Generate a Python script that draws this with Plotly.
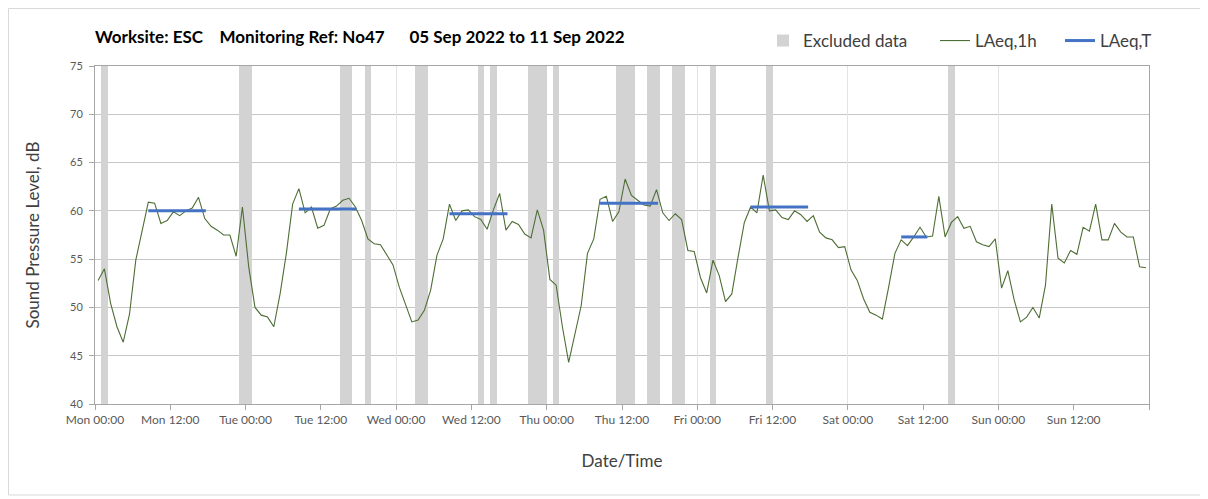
import pandas as pd
import plotly.graph_objects as go

# ---------------- data ----------------
start = pd.Timestamp("2022-09-05 00:00")

# hourly LAeq,1h values (Mon 00:00 .. Sun 23:00), plotted at mid-hour
laeq_1h = [
    52.8, 54.0, 50.4, 48.0, 46.4, 49.3, 54.9, 57.8, 60.9, 60.8, 58.7, 59.0,
    59.9, 59.5, 60.0, 60.3, 61.4, 59.2, 58.4, 58.0, 57.5, 57.5, 55.3, 60.4,
    54.2, 50.0, 49.2, 49.0, 48.0, 51.4, 55.6, 60.7, 62.3, 59.8, 60.4, 58.2,
    58.5, 60.2, 60.5, 61.1, 61.3, 60.4, 59.0, 57.1, 56.6, 56.5, 55.4, 54.4,
    52.1, 50.2, 48.5, 48.7, 49.7, 51.8, 55.4, 57.1, 60.7, 59.0, 60.0, 60.1,
    59.4, 59.1, 58.1, 60.1, 61.8, 58.0, 58.9, 58.6, 57.6, 57.2, 60.1, 58.0,
    52.9, 52.3, 48.0, 44.3, 47.3, 50.2, 55.6, 57.1, 61.2, 61.5, 58.9, 59.9,
    63.3, 61.6, 61.1, 60.6, 60.5, 62.2, 59.8, 59.0, 59.7, 59.1, 55.9, 55.8,
    53.1, 51.5, 54.9, 53.3, 50.6, 51.4, 55.2, 58.8, 60.4, 59.8, 63.7, 60.0,
    60.1, 59.3, 59.1, 60.0, 59.6, 58.9, 59.5, 57.8, 57.2, 57.0, 56.2, 56.3,
    53.9, 52.8, 50.9, 49.5, 49.2, 48.8, 52.1, 55.6, 57.0, 56.4, 57.3, 58.3,
    57.3, 57.4, 61.5, 57.3, 58.8, 59.4, 58.2, 58.4, 56.8, 56.5, 56.3, 57.1,
    52.0, 53.8, 50.8, 48.5, 49.0, 50.0, 48.9, 52.3, 60.7, 55.1, 54.6, 55.9,
    55.5, 58.3, 57.9, 60.7, 57.0, 57.0, 58.7, 57.8, 57.3, 57.3, 54.2, 54.1,
]

# LAeq,T period values
laeq_t_start = ["2022-09-05 08:30", "2022-09-06 08:30", "2022-09-07 08:30",
                "2022-09-08 08:30", "2022-09-09 08:30", "2022-09-10 08:30"]
laeq_t_end = ["2022-09-05 17:40", "2022-09-06 17:40", "2022-09-07 17:45",
              "2022-09-08 17:45", "2022-09-09 17:40", "2022-09-10 12:40"]
laeq_t_value = [60.0, 60.2, 59.7, 60.8, 60.4, 57.3]

# excluded data periods (hours from Mon 00:00)
excl_start_h = [1, 23, 39, 43, 51, 61, 63, 69, 73, 83, 88, 92, 98, 107, 136]
excl_end_h = [2, 25, 41, 44, 53, 62, 64, 72, 74, 86, 90, 94, 99, 108, 137]

# axis ticks
tick_labels = ["Mon 00:00", "Mon 12:00", "Tue 00:00", "Tue 12:00", "Wed 00:00",
               "Wed 12:00", "Thu 00:00", "Thu 12:00", "Fri 00:00", "Fri 12:00",
               "Sat 00:00", "Sat 12:00", "Sun 00:00", "Sun 12:00", ""]
y_ticks = [40, 45, 50, 55, 60, 65, 70, 75]

# ---------------- derived ----------------
x_1h = [start + pd.Timedelta(hours=h + 0.5) for h in range(len(laeq_1h))]
tick_vals = [start + pd.Timedelta(hours=12 * i) for i in range(len(tick_labels))]
day_vals = [start + pd.Timedelta(days=d) for d in range(8)]

excl_mid = [start + pd.Timedelta(hours=(a + b) / 2) for a, b in zip(excl_start_h, excl_end_h)]
excl_width = [(b - a) * 3600 * 1000 for a, b in zip(excl_start_h, excl_end_h)]

tx, ty = [], []
for s, e, v in zip(laeq_t_start, laeq_t_end, laeq_t_value):
    tx += [pd.Timestamp(s), pd.Timestamp(e), None]
    ty += [v, v, None]

FONT = "Lato"
# page body has an 8px margin; figure sized so the page matches the 1208x499 target
OFF = 8
W, H = 1200, 491
ML, MT = 95 - OFF, 66 - OFF
PW, PH = 1054, 338
fig = go.Figure()

fig.add_trace(go.Bar(
    x=excl_mid, y=[35] * len(excl_mid), base=[40] * len(excl_mid),
    width=excl_width, name="Excluded data",
    marker=dict(color="#d3d3d3", line=dict(width=0)),
    hoverinfo="skip", legend="legend",
))
fig.add_trace(go.Scatter(
    x=x_1h, y=laeq_1h, mode="lines", name="LAeq,1h",
    line=dict(color="#4e6e35", width=1.1), legend="legend2",
))
fig.add_trace(go.Scatter(
    x=tx, y=ty, mode="lines", name="LAeq,T",
    line=dict(color="#4472c4", width=3),
    connectgaps=False, legend="legend3",
))
# invisible trace on overlay axis for daily gridlines
fig.add_trace(go.Scatter(x=[day_vals[0], day_vals[-1]], y=[None, None],
                         xaxis="x2", showlegend=False, hoverinfo="skip"))

leg_common = dict(orientation="h", xref="container", yref="container",
                  xanchor="left", yanchor="middle", y=1 - (41 - OFF) / H,
                  font=dict(size=17, color="#404040", family=FONT),
                  bgcolor="rgba(0,0,0,0)", borderwidth=0)

fig.update_layout(
    width=W, height=H,
    margin=dict(l=ML, r=W - ML - PW, t=MT, b=H - MT - PH, autoexpand=False),
    paper_bgcolor="white", plot_bgcolor="white",
    font=dict(family=FONT, color="#404040"),
    showlegend=True,
    legend=dict(leg_common, x=(763 - OFF) / W),
    legend2=dict(leg_common, x=(935 - OFF) / W),
    legend3=dict(leg_common, x=(1060 - OFF) / W),
    xaxis=dict(
        type="date", range=[day_vals[0], day_vals[-1]],
        tickmode="array", tickvals=tick_vals, ticktext=tick_labels,
        ticks="outside", ticklen=5, tickcolor="#a6a6a6",
        showgrid=False, showline=True, linecolor="#a6a6a6", mirror=True,
        tickfont=dict(size=12, color="#595959", family=FONT),
        title=dict(text="Date/Time", font=dict(size=17, color="#404040", family=FONT), standoff=28),
        zeroline=False, automargin=False,
    ),
    xaxis2=dict(
        type="date", overlaying="x", matches="x", range=[day_vals[0], day_vals[-1]],
        tickmode="array", tickvals=day_vals, showticklabels=False, ticks="",
        showgrid=True, gridcolor="#e3e3e3", gridwidth=1, showline=False, zeroline=False,
    ),
    yaxis=dict(
        range=[40, 75], tickmode="array", tickvals=y_ticks,
        ticks="outside", ticklen=5, tickcolor="#a6a6a6",
        showgrid=True, gridcolor="#c6c6c6", gridwidth=1,
        showline=True, linecolor="#a6a6a6", mirror=True,
        tickfont=dict(size=11, color="#595959", family=FONT),
        ticklabelstandoff=4,
        title=dict(text="Sound Pressure Level, dB", font=dict(size=17, color="#404040", family=FONT), standoff=26),
        zeroline=False, automargin=False,
    ),
    bargap=0,
)

fig.add_annotation(
    text="<b>Worksite: ESC\u00a0\u00a0\u00a0\u00a0Monitoring Ref: No47\u00a0\u00a0\u00a0\u00a0\u00a0\u00a005 Sep 2022 to 11 Sep 2022</b>",
    xref="paper", yref="paper", x=-2 / PW, xanchor="left", y=(404 - 37) / PH, yanchor="middle",
    showarrow=False, font=dict(size=17, color="#000000", family=FONT),
)

# chart area border
fig.add_shape(type="rect", xref="paper", yref="paper",
              x0=(0.5 - ML) / PW, x1=(1203 - OFF - ML) / PW,
              y0=(MT + PH - (495 - OFF)) / PH, y1=(MT + PH - 0.5) / PH,
              line=dict(color="#d9d9d9", width=1), fillcolor="rgba(0,0,0,0)", layer="below")

fig.write_html("out.html")
